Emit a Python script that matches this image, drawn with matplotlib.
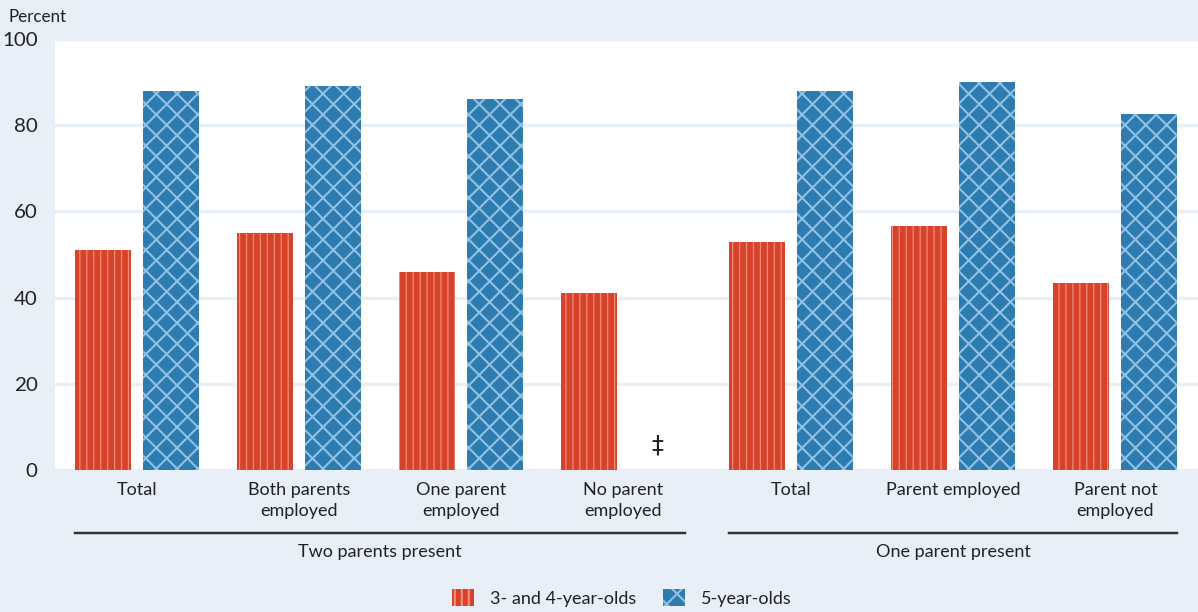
import numpy as np
import matplotlib
matplotlib.use("Agg")
import matplotlib.pyplot as plt
from matplotlib.patches import Patch

categories = ["Total", "Both parents\nemployed", "One parent\nemployed", "No parent\nemployed",
              "Total", "Parent employed", "Parent not\nemployed"]
groups = ["Two parents present", "One parent present"]
group_sizes = [4, 3]
age34 = [51, 55, 46, 41, 53, 56.5, 43.5]
age5 = [88, 89, 86, np.nan, 88, 90, 82.5]
series_names = ["3- and 4-year-olds", "5-year-olds"]
missing_mark = "\u2021"

DPI = 125
W, H = 1198, 612
plt.rcParams['font.family'] = ['Lato', 'DejaVu Sans']

def px(v):
    return v * 72.0 / DPI

bg = "#E8EFF7"
red = "#D8412A"
red_h = "#EE8F7C"
blue = "#2E7BB0"
blue_h = "#8EC1E3"
txt = "#222222"

fig = plt.figure(figsize=(W / DPI, H / DPI), dpi=DPI, facecolor=bg)
ax = fig.add_axes([55 / W, (H - 470) / H, (W - 55) / W, 431 / H])
ax.set_facecolor("white")

gap = 0.04
pos = []
start = 0.0
for gi, n in enumerate(group_sizes):
    for k in range(n):
        pos.append(start + k)
    start += n + gap
pos = np.array(pos)

bw = 0.346
off = 0.21
plt.rcParams['hatch.linewidth'] = 0.7
ax.bar(pos - off, age34, width=bw, color=red, edgecolor=red_h, hatch="|||", linewidth=0, zorder=3)
h_red = Patch(facecolor=red, edgecolor=red_h, hatch="|||", linewidth=0)
plt.rcParams['hatch.linewidth'] = 1.2
ax.bar(pos + off, age5, width=bw, color=blue, edgecolor=blue_h, hatch="xx", linewidth=0, zorder=3)
h_blue = Patch(facecolor=blue, edgecolor=blue_h, hatch="xx", linewidth=0)

for i, v in enumerate(age5):
    if np.isnan(v):
        ax.text(pos[i] + off, 3, missing_mark, ha="center", va="bottom",
                fontsize=px(24), color=txt, family=['DejaVu Sans'])

ax.set_ylim(0, 100)
ax.set_xlim(-0.506, 6.55)
ax.set_yticks([0, 20, 40, 60, 80, 100])
ax.set_yticklabels(["0", "20", "40", "60", "80", "100"], fontsize=px(20.5), color=txt)
ax.set_xticks(pos)
ax.set_xticklabels(categories, fontsize=px(18), color=txt, linespacing=1.4)
ax.tick_params(axis="both", length=0)
ax.tick_params(axis="y", pad=10)
ax.tick_params(axis="x", pad=7)
for s in ax.spines.values():
    s.set_visible(False)
ax.yaxis.grid(True, color=bg, linewidth=2, zorder=0)
ax.set_axisbelow(True)

# group lines and labels
trans = ax.get_xaxis_transform()
idx = 0
for g, n in zip(groups, group_sizes):
    x0 = pos[idx] - off - bw / 2
    x1 = pos[idx + n - 1] + off + bw / 2
    y_line = 1 - (533 - 39) / 431
    ax.plot([x0, x1], [y_line, y_line], transform=trans, color="#333333", lw=1.4, clip_on=False)
    y_lab = 1 - (552 - 39) / 431
    ax.text((x0 + x1) / 2, y_lab, g, transform=trans, ha="center", va="center",
            fontsize=px(18), color=txt)
    idx += n

fig.text(8 / W, 1 - 17 / H, "Percent", ha="left", va="center", fontsize=px(17), color=txt)

fig.legend([h_red, h_blue], series_names, loc="center", bbox_to_anchor=(622 / W, 1 - 598 / H),
           ncol=2, frameon=False, fontsize=px(18), handlelength=1.2, handleheight=1.1,
           columnspacing=1.5, handletextpad=0.9, labelcolor=txt)

fig.savefig("out.png", dpi=DPI, facecolor=bg)
